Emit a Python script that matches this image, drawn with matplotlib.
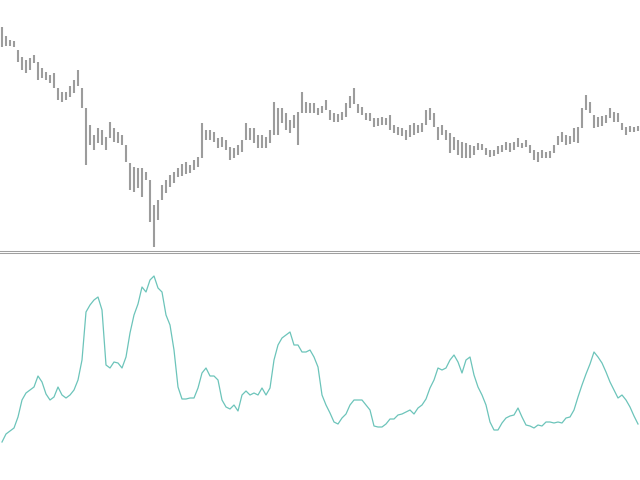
import matplotlib
matplotlib.use('Agg')
import matplotlib.pyplot as plt
import numpy as np

# ─── Data ─────────────────────────────────────────────────────────────────────
# price bars (high / low), one per period
highs = [
    223, 214, 210, 209, 200, 193, 190, 192, 195, 188,
    182, 178, 175, 177, 162, 158, 158, 164, 170, 180,
    162, 142, 125, 115, 122, 120, 113, 128, 122, 118,
    115, 105, 87, 83, 82, 82, 78, 70, 45, 50,
    65, 70, 75, 78, 82, 86, 88, 85, 90, 93,
    127, 120, 120, 118, 112, 113, 110, 103, 102, 105,
    110, 127, 122, 122, 115, 115, 113, 120, 148, 142,
    142, 137, 130, 135, 138, 158, 148, 147, 147, 142,
    144, 150, 140, 137, 136, 138, 147, 154, 162, 146,
    143, 137, 137, 132, 132, 133, 132, 135, 125, 123,
    122, 120, 125, 127, 125, 127, 140, 142, 137, 123,
    125, 120, 117, 113, 110, 108, 107, 105, 104, 107,
    106, 102, 100, 100, 104, 105, 108, 107, 108, 112,
    107, 110, 105, 100, 98, 100, 98, 99, 105, 114,
    118, 115, 114, 122, 123, 142, 155, 148, 135, 133,
    134, 135, 142, 138, 137, 127, 123, 124, 123, 124,
]
lows = [
    203, 204, 204, 203, 188, 180, 177, 180, 187, 170,
    172, 170, 167, 162, 150, 148, 150, 153, 157, 164,
    142, 85, 105, 100, 107, 105, 100, 112, 108, 107,
    105, 88, 60, 58, 62, 53, 70, 28, 3, 30,
    50, 57, 63, 67, 73, 74, 76, 77, 80, 83,
    92, 110, 110, 108, 102, 103, 100, 90, 92, 95,
    98, 110, 110, 107, 102, 102, 102, 107, 115, 115,
    127, 120, 117, 122, 105, 137, 137, 137, 137, 135,
    137, 140, 130, 128, 128, 130, 133, 142, 146, 137,
    135, 130, 129, 123, 124, 125, 125, 120, 117, 115,
    114, 110, 113, 115, 117, 118, 125, 130, 123, 110,
    115, 110, 97, 100, 95, 92, 92, 92, 95, 100,
    100, 95, 93, 94, 96, 98, 100, 98, 100, 103,
    102, 103, 97, 90, 88, 92, 92, 92, 97, 105,
    108, 105, 106, 108, 107, 122, 140, 137, 122, 123,
    124, 127, 132, 128, 128, 120, 115, 118, 118, 119,
]

# oscillator in the lower pane
osc = [
    38, 46, 49, 52, 63, 80, 87, 90, 93, 104,
    98, 86, 80, 83, 93, 85, 82, 85, 90, 100,
    120, 168, 175, 180, 183, 170, 115, 112, 118, 117,
    112, 123, 147, 165, 176, 193, 188, 200, 204, 192,
    188, 165, 155, 130, 93, 81, 81, 82, 82, 92,
    107, 112, 104, 104, 100, 80, 73, 71, 75, 69,
    85, 89, 85, 87, 85, 92, 85, 92, 120, 135,
    142, 145, 148, 135, 135, 128, 128, 130, 123, 113,
    85, 75, 67, 58, 56, 62, 66, 75, 80, 80,
    80, 75, 70, 54, 53, 53, 56, 61, 61, 65,
    66, 68, 70, 66, 72, 75, 81, 92, 100, 112,
    110, 112, 120, 125, 118, 107, 120, 123, 105, 93,
    85, 75, 58, 50, 50, 57, 62, 64, 65, 72,
    63, 55, 54, 52, 55, 54, 58, 58, 57, 58,
    57, 62, 63, 70, 83, 95, 106, 116, 128, 123,
    117, 108, 98, 90, 82, 85, 80, 73, 64, 56,
]

BAR_C  = "#9c9c9c"
OSC_C  = "#6cc4ba"
EDGE_C = "#a0a0a0"

idx = np.arange(len(highs))

fig = plt.figure(figsize=(6.4, 4.8), dpi=100)
fig.patch.set_facecolor("white")

# ─── Price pane ───────────────────────────────────────────────────────────────
TOP_B = 250.5   # px from top where price pane ends
ax1 = fig.add_axes([0, 1 - TOP_B/480, 1, TOP_B/480])
ax1.vlines(idx, lows, highs, color=BAR_C, lw=1.5)
ax1.set_xlim(-0.5, len(highs) - 0.5)
ax1.set_ylim(250 - TOP_B, 250)
ax1.set_xticks([]); ax1.set_yticks([])
for s in ('top', 'left', 'right'):
    ax1.spines[s].set_visible(False)
ax1.spines['bottom'].set_color(EDGE_C)
ax1.spines['bottom'].set_linewidth(0.75)

# ─── Oscillator pane ──────────────────────────────────────────────────────────
BOT_T = 253.5
ax2 = fig.add_axes([0, 0, 1, 1 - BOT_T/480])
ax2.plot(idx, osc, color=OSC_C, lw=0.9)
ax2.set_xlim(-0.5, len(osc) - 0.5)
ax2.set_ylim(0, 480 - BOT_T)
ax2.set_xticks([]); ax2.set_yticks([])
for s in ('bottom', 'left', 'right'):
    ax2.spines[s].set_visible(False)
ax2.spines['top'].set_color(EDGE_C)
ax2.spines['top'].set_linewidth(0.75)

fig.savefig("out.png", dpi=100, facecolor="white")
plt.close(fig)
